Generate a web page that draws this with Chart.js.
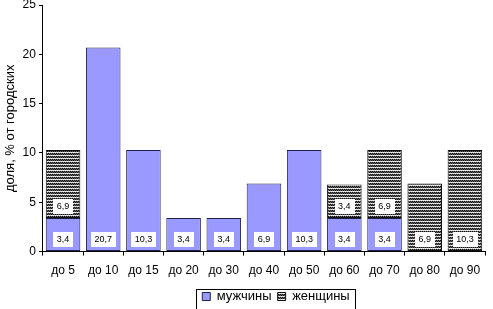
<!DOCTYPE html>
<html>
<head>
<meta charset="utf-8">
<script src="https://cdn.jsdelivr.net/npm/chart.js@4/dist/chart.umd.min.js"></script>
<style>
  html, body { margin: 0; padding: 0; background: #fff; }
  #wrap { width: 493px; height: 309px; }
</style>
</head>
<body>
<div id="wrap"><canvas id="myChart" width="493" height="309"></canvas></div>
<script>
const categories = ["до 5", "до 10", "до 15", "до 20", "до 30", "до 40", "до 50", "до 60", "до 70", "до 80", "до 90"];
const men = [3.4, 20.7, 10.3, 3.4, 3.4, 6.9, 10.3, 3.4, 3.4, 0, 0];
const women = [6.9, 0, 0, 0, 0, 0, 0, 3.4, 6.9, 6.9, 10.3];
const yTicks = [0, 5, 10, 15, 20, 25];

const FONT = "'Liberation Sans', Arial, sans-serif";

// dark dotted stripes, like the old excel fill
function makePattern() {
    const c = document.createElement("canvas");
    c.width = 2; c.height = 3;
    const g = c.getContext("2d");
    g.fillStyle = "#fff";
    g.fillRect(0, 0, 2, 3);
    g.fillStyle = "#111";
    g.fillRect(0, 0, 1, 1);
    g.fillRect(1, 1, 1, 1);
    g.fillStyle = "#666";
    g.fillRect(1, 0, 1, 1);
    g.fillRect(0, 1, 1, 1);
    g.fillStyle = "#ccc";
    g.fillRect(0, 2, 1, 1);
    return g.createPattern(c, "repeat");
}
const stripes = makePattern();

const fmt = v => String(v).replace(".", ",");
const noZero = arr => arr.map(v => v === 0 ? null : v);

const valueBoxes = {
    id: "valueBoxes",
    afterDatasetsDraw(chart) {
        const ctx = chart.ctx;
        ctx.save();
        ctx.font = "9px " + FONT;
        ctx.textAlign = "center";
        ctx.textBaseline = "middle";
        chart.data.datasets.forEach((ds, di) => {
            const meta = chart.getDatasetMeta(di);
            meta.data.forEach((bar, i) => {
                const v = ds.data[i];
                if (!v) return;
                const cy = bar.base - 12;
                const txt = fmt(v);
                const w = ctx.measureText(txt).width + 7;
                ctx.fillStyle = "#fff";
                ctx.fillRect(Math.round(bar.x - w / 2), Math.round(cy - 7), Math.round(w), 15);
                ctx.fillStyle = "#000";
                ctx.fillText(txt, bar.x, cy + 0.5);
            });
        });
        ctx.restore();
    }
};

// move legend a bit right and frame it
const legendBox = {
    id: "legendBox",
    afterLayout(chart) {
        chart.legend.left += 32;
        chart.legend.right += 32;
        chart.legend.top -= 2;
        chart.legend.bottom -= 2;
    },
    afterDraw(chart) {
        const l = chart.legend;
        const ctx = chart.ctx;
        const w = l.lineWidths[0] + 6;
        const cx = (l.left + l.right) / 2;
        const cy = (l.top + l.bottom) / 2;
        ctx.save();
        ctx.strokeStyle = "#000";
        ctx.lineWidth = 1;
        ctx.strokeRect(Math.round(cx - w / 2) + 0.5, Math.round(cy - 10) + 0.5, Math.round(w), 20);
        ctx.restore();
    }
};

new Chart(document.getElementById("myChart"), {
    type: "bar",
    data: {
        labels: categories,
        datasets: [{
            label: "мужчины",
            data: noZero(men),
            backgroundColor: "#9999ff",
            borderColor: "#20204a",
            borderWidth: 1,
            borderSkipped: false
        }, {
            label: "женщины",
            data: noZero(women),
            backgroundColor: stripes,
            borderColor: "#111",
            borderWidth: 1,
            borderSkipped: false
        }]
    },
    plugins: [valueBoxes, legendBox],
    options: {
        responsive: false,
        animation: false,
        devicePixelRatio: 1,
        layout: { padding: { top: 0, right: 8, left: 3, bottom: -6 } },
        datasets: { bar: { categoryPercentage: 1, barPercentage: 0.86 } },
        plugins: {
            tooltip: { enabled: false },
            legend: {
                position: "bottom",
                labels: {
                    boxWidth: 8,
                    boxHeight: 8,
                    padding: 6,
                    color: "#000",
                    font: { family: FONT, size: 13 }
                }
            }
        },
        scales: {
            x: {
                stacked: true,
                grid: { display: true, drawOnChartArea: false, offset: true, color: "#000", tickLength: 4 },
                border: { color: "#000" },
                ticks: { color: "#000", padding: 8, maxRotation: 0, font: { family: FONT, size: 12 } }
            },
            y: {
                stacked: true,
                min: 0,
                max: 25,
                afterBuildTicks: axis => { axis.ticks = yTicks.map(v => ({ value: v })); },
                afterFit: axis => { axis.paddingTop = 5; },
                grid: { display: true, drawOnChartArea: false, color: "#000", tickLength: 4 },
                border: { color: "#000" },
                ticks: { color: "#000", padding: 3, font: { family: FONT, size: 12 } },
                title: {
                    display: true,
                    text: "доля, % от городских",
                    color: "#000",
                    padding: { top: 0, bottom: 1 },
                    font: { family: FONT, size: 13 }
                }
            }
        }
    }
});
</script>
</body>
</html>
